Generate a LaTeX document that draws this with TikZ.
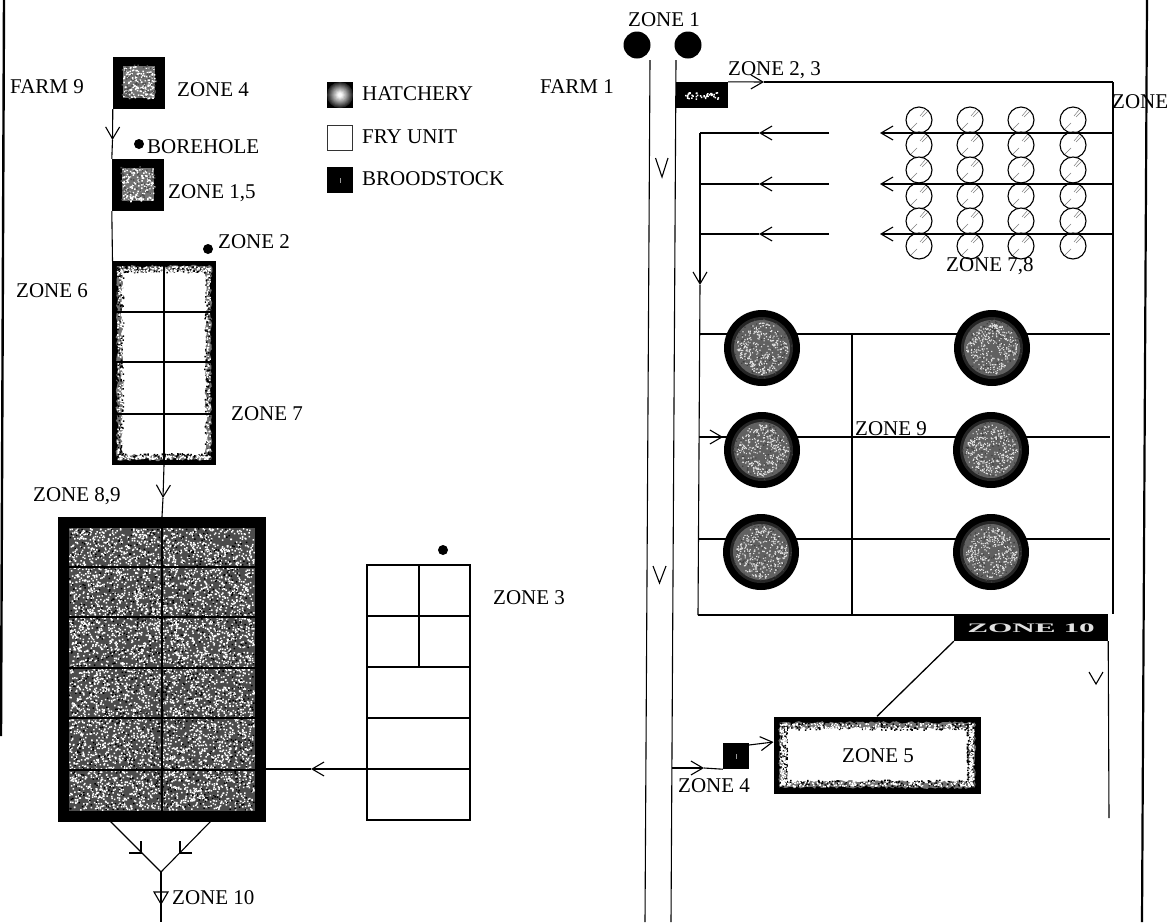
\documentclass[tikz,border=0pt]{standalone}
\usepackage{fontspec}
\setmainfont{Liberation Serif}
\usetikzlibrary{arrows.meta,decorations.pathmorphing}
\newcommand{\speck}[6]{% x0 y0 x1 y1 n colour
  \pgfmathtruncatemacro\nbatch{max(1,round((#5)/40))}%
  \foreach \b in {1,...,\nbatch}{%
    \fill[#6] \foreach \i in {1,...,40}{%
      ({(#1)+rnd*((#3)-(#1))},{(#2)+rnd*((#4)-(#2))}) rectangle ++(1.5,1.5)};}}
\newcommand{\speckdisc}[5]{% cx cy r n colour
  \pgfmathtruncatemacro\nbatch{max(1,round((#4)/40))}%
  \foreach \b in {1,...,\nbatch}{%
    \fill[#5] \foreach \i in {1,...,40}{%
      (#1,#2) ++({rnd*360}:{#3*sqrt(rnd)}) rectangle ++(1.2,1.2)};}}
\newcommand{\jagframe}[7]{% x0 y0 x1 y1 inset-gray inset-white specks per side
  \fill[black!55,decorate,decoration={random steps,segment length=2.5pt,amplitude=1.4pt}]
    ({#1+#5},{#2+#5}) -- ({#3-#5},{#2+#5}) -- ({#3-#5},{#4-#5}) -- ({#1+#5},{#4-#5}) -- cycle;
  \fill[white,decorate,decoration={random steps,segment length=2.5pt,amplitude=1.6pt}]
    ({#1+#6},{#2+#6}) -- ({#3-#6},{#2+#6}) -- ({#3-#6},{#4-#6}) -- ({#1+#6},{#4-#6}) -- cycle;
  \speck{#1+#5}{#2+#5}{#3-#5-1.5}{#2+#6+1}{#7}{black}
  \speck{#1+#5}{#4-#6-2}{#3-#5-1.5}{#4-#5-1.5}{#7}{black}
  \speck{#1+#5}{#2+#5}{#1+#6+1}{#4-#5-1.5}{#7}{black}
  \speck{#3-#6-2}{#2+#5}{#3-#5-1.5}{#4-#5-1.5}{#7}{black}
  \speck{#1+#5}{#2+#5}{#3-#5-1.5}{#2+#6}{#7}{white}
  \speck{#1+#5}{#4-#6}{#3-#5-1.5}{#4-#5-1.5}{#7}{white}
  \speck{#1+#5}{#2+#5}{#1+#6}{#4-#5-1.5}{#7}{white}
  \speck{#3-#6}{#2+#5}{#3-#5-1.5}{#4-#5-1.5}{#7}{white}}
\tikzset{
  lab/.style={anchor=base west,inner sep=0pt,font=\fontsize{21}{23}\selectfont},
  ln/.style={line width=1.1pt,black},
  barb/.style={ln,-{Straight Barb[length=12pt,width=14pt,line width=1.1pt]}},
  solidbox/.style={fill=black,draw=none,inner sep=0pt},
  dot/.style={circle,fill=black,draw=none,inner sep=0pt,minimum size=10pt},
  bigdot/.style={circle,fill=black,draw=none,inner sep=0pt,minimum size=27pt},
  tank/.style={circle,fill=black,draw=none,inner sep=0pt,minimum size=76pt},
  pond/.style={circle,draw=black,line width=1.1pt,fill=white,inner sep=0pt,minimum size=26pt},
  vmark/.style={line width=1.1pt,black},
  grid/.style={line width=1.2pt,black}
}
\begin{document}
\begin{tikzpicture}[x=1pt,y=-1pt]
\pgfmathsetseed{4711}
\useasboundingbox (0,0) rectangle (1173,922);
\fill[white] (0,0) rectangle (1173,922);

% ---------- page edges
\coordinate (edgeLa) at (4,0); \coordinate (edgeLb) at (1,736);
\coordinate (edgeRa) at (1147,0); \coordinate (edgeRb) at (1142,922);
\draw[line width=2.4pt] (edgeLa) -- (edgeLb);
\draw[line width=2.2pt] (edgeRa) -- (edgeRb);

% ---------- left farm
\node[solidbox,minimum width=52pt,minimum height=52pt] (f9) at (139,83) {};
\fill[black!55] (123,66) rectangle (155,98); \speck{123}{66}{155}{98}{160}{white}
\speck{121}{64}{155}{98}{80}{black!70}
\node[solidbox,minimum width=52pt,minimum height=52pt] (z15) at (138,185) {};
\fill[black!55] (122,168) rectangle (154,201); \speck{122}{168}{154}{201}{160}{white}
\speck{120}{166}{154}{201}{80}{black!70}
\coordinate (linkA) at (112.5,140);
\coordinate (linkB) at (112.5,261);
\draw[barb] (f9.south west) -- (linkA);
\draw[ln] (linkA) -- (z15.north west);
\draw[ln] (z15.south west) -- (linkB);
\node[dot] (bore) at (139,144) {};
\node[dot] (d2) at (208,249) {};

% zone 6 unit
\node[solidbox,minimum width=104pt,minimum height=204pt] (z6) at (164,363) {};
\jagframe{112}{261}{216}{465}{5}{10}{120}
\foreach \yy in {312,362,414} \draw[grid] (z6.west |- 0,\yy) -- (z6.east |- 0,\yy);
\draw[grid] (z6.north) -- (z6.south);

% big pond
\node[solidbox,minimum width=208pt,minimum height=305pt] (big) at (162,669.5) {};
\fill[black!70] (69,528) rectangle (255,811);
\speck{69}{528}{253.5}{809.5}{6000}{white}
\speck{69}{528}{253.5}{809.5}{1200}{black}
\foreach \yy in {567,617,668,718,770} \draw[grid] (69,\yy) -- (255,\yy);
\draw[line width=1.8pt] (162,528) -- (162,811);
\coordinate (z6tip) at (163,498);
\draw[barb] (z6.south) -- (z6tip);
\draw[ln] (z6tip) -- (big.north);

% zone 3 unit
\node[draw=black,line width=1.4pt,inner sep=0pt,minimum width=103pt,minimum height=255pt] (z3) at (418.5,692.5) {};
\foreach \yy in {616,667,718,769} \draw[grid] (z3.west |- 0,\yy) -- (z3.east |- 0,\yy);
\coordinate (z3m) at (419,667);
\draw[grid] (z3.north -| z3m) -- (z3m);
\node[dot] (d3) at (443,550) {};
\coordinate (feedE) at (470,769);
\coordinate (feedT) at (311,769);
\coordinate (feedW) at (266,769);
\draw[barb] (feedE) -- (feedT);
\draw[ln] (feedT) -- (feedW);

% outlet
\coordinate (outL) at (110,821); \coordinate (outR) at (211,821);
\coordinate (outM) at (161,872); \coordinate (outB) at (161,922);
\coordinate (outTL) at (141,853); \coordinate (outTR) at (180,853);
\coordinate (outT) at (161,904);
\draw[ln] (outL) -- (outM) -- (outR);
\draw[ln] (129,853) -- (outTL) -- (141,841);
\draw[ln] (192,853) -- (outTR) -- (180,841);
\draw[ln] (outM) -- (outB);
\draw[ln] (154,892) -- (168,892) -- (outT) -- cycle;

% labels left
\node[lab] (tF9) at (10,93) {FARM 9};
\node[lab] (tZ4) at (177,96) {ZONE 4};
\node[lab] (tBore) at (147,153) {BOREHOLE};
\node[lab] (tZ15) at (168,198) {ZONE 1,5};
\node[lab] (tZ2) at (218,248) {ZONE 2};
\node[lab] (tZ6) at (16,297) {ZONE 6};
\node[lab] (tZ7) at (231,420) {ZONE 7};
\node[lab] (tZ89) at (33,501) {ZONE 8,9};
\node[lab] (tZ3) at (493,604) {ZONE 3};
\node[lab] (tZ10) at (172,904) {ZONE 10};

% ---------- legend
\node[solidbox,minimum size=26pt] (lH) at (340,95) {};
\foreach \rr/\gg in {13/85,12/78,11/70,10/62,9/54,8/46,7/38,6/30,5/22,4/14,3/7,2/2}
  \fill[black!\gg] (340,95) circle (\rr);
\node[draw=black!80,line width=1.3pt,fill=white,inner sep=0pt,minimum size=25pt] (lF) at (340,138) {};
\node[solidbox,minimum size=26pt] (lB) at (340,180) {};
\fill[black!40] (339.5,178) rectangle (340.5,183);
\node[lab] (tH) at (362,100) {HATCHERY};
\node[lab] (tF) at (362,143) {FRY UNIT};
\node[lab] (tB) at (362,185) {BROODSTOCK};

% ---------- right farm: river
\node[bigdot] (w1) at (637,45) {};
\node[bigdot] (w2) at (688,45) {};
\coordinate (rLa) at (650,60); \coordinate (rLb) at (645,922);
\coordinate (rRa) at (676,60); \coordinate (rRb) at (671,922);
\draw[ln] (rLa) -- (rLb);
\draw[ln] (rRa) -- (rRb);
\draw[vmark] (655.5,158) -- (662,177) -- (668,158);
\draw[vmark] (653,566) -- (659.5,583) -- (666,566);
\draw[vmark] (1089,672) -- (1096,684) -- (1103,672);

% farm 1 box
\node[solidbox,minimum width=52pt,minimum height=26pt] (f1) at (702,95) {};
\speck{684}{92}{718}{99}{40}{white}
\coordinate (topT) at (764,82); \coordinate (topC) at (1113,82);
\draw[barb] (f1.north east) -- (topT);
\draw[ln] (topT) -- (topC);
\coordinate (dropB) at (1109,818);
\coordinate (colW) at (700,133);
\coordinate (colS) at (698,615);
\coordinate (colT) at (700,285);
\draw[barb] (colW) -- (colT);
\draw[ln] (colT) -- (colS);

% nursery ponds
\foreach \cx in {919,970,1021,1073} \foreach \cy in {120,145,170,196,221,246}{
  \node[pond] at (\cx,\cy) {};
  \draw[black!50,line width=.5pt] ({\cx-8},{\cy+9}) -- ({\cx-2},{\cy+3});
  \draw[black!50,line width=.5pt] ({\cx+3},{\cy-3}) -- ({\cx+9},{\cy-9});
  \draw[black!50,line width=.5pt] ({\cx+1},{\cy-4}) -- ({\cx+6},{\cy-10});
}
\foreach \yy in {133,184,234}{
  \coordinate (aE) at (1113,\yy); \coordinate (aT) at (880,\yy);
  \coordinate (bE) at (829,\yy); \coordinate (bT) at (759,\yy); \coordinate (bW) at (700,\yy);
  \draw[barb] (aE) -- (aT);
  \draw[barb] (bE) -- (bT);
  \draw[ln] (bT) -- (bW);
}

% on-growing ponds: lines first
\foreach \yy in {334,437,539} \draw[ln] (699,\yy) -- (1110,\yy);
\coordinate (midN) at (852,334); \coordinate (midS) at (852,615);
\draw[ln] (midN) -- (midS);
\draw[ln] (colS) -- (954,615);
\coordinate (arrowW) at (699,437); \coordinate (arrowE) at (723,437);
\draw[barb] (arrowW) -- (arrowE);
\foreach \n/\cx/\cy in {a/762/348,b/762/450,c/761/552,d/992/348,e/991/450,f/991/552}{
  \node[tank] (t\n) at (\cx,\cy) {};
  \fill[black!85] (\cx,\cy) circle (31);
  \fill[black!62] (\cx,\cy) circle (28);
  \speckdisc{\cx}{\cy}{30}{120}{black!75}
  \speckdisc{\cx}{\cy}{26}{320}{black!12}
}

% zone 10 bar
\node[solidbox,minimum width=154pt,minimum height=27pt] (bar) at (1031,627.5) {};
\node[black!12,inner sep=0pt,font=\fontsize{13}{14}\bfseries\selectfont,xscale=2.4] (tBar) at (1031,628) {ZONE 10};
\draw[ln] (topC) -- (bar.north east -| topC);
\draw[ln] (bar.south east) -- (dropB);

% zone 5
\node[solidbox,minimum width=207pt,minimum height=77pt] (z5) at (877,755) {};
\jagframe{773.5}{716.5}{980.5}{793.5}{6}{12}{160}
\node[lab] (tZ5) at (842,762) {ZONE 5};
\draw[line width=1.3pt] (bar.south west) -- (z5.north);

% broodstock box + arrows
\node[solidbox,minimum size=26pt] (br) at (736,756) {};
\fill[black!40] (735.5,754) rectangle (736.5,759);
\coordinate (r4) at (672,768); \coordinate (r4T) at (704,768);
\draw[barb] (r4) -- (r4T);
\draw[ln] (r4T) -- (br.south west);
\coordinate (brO) at (749,745);
\coordinate (z5I) at (773.5,742);
\draw[barb] (brO) -- (z5I);

% labels right
\node[lab] (tZ1) at (628,26) {ZONE 1};
\node[lab] (tF1) at (540,93) {FARM 1};
\node[lab] (tZ23) at (728,75) {ZONE 2, 3};
\node[lab] (tZr) at (1112,108) {ZONE};
\node[lab] (tZ78) at (946,271) {ZONE 7,8};
\node[lab] (tZ9) at (855,435) {ZONE 9};
\node[lab] (tZ4b) at (678,792) {ZONE 4};
\end{tikzpicture}
\end{document}
